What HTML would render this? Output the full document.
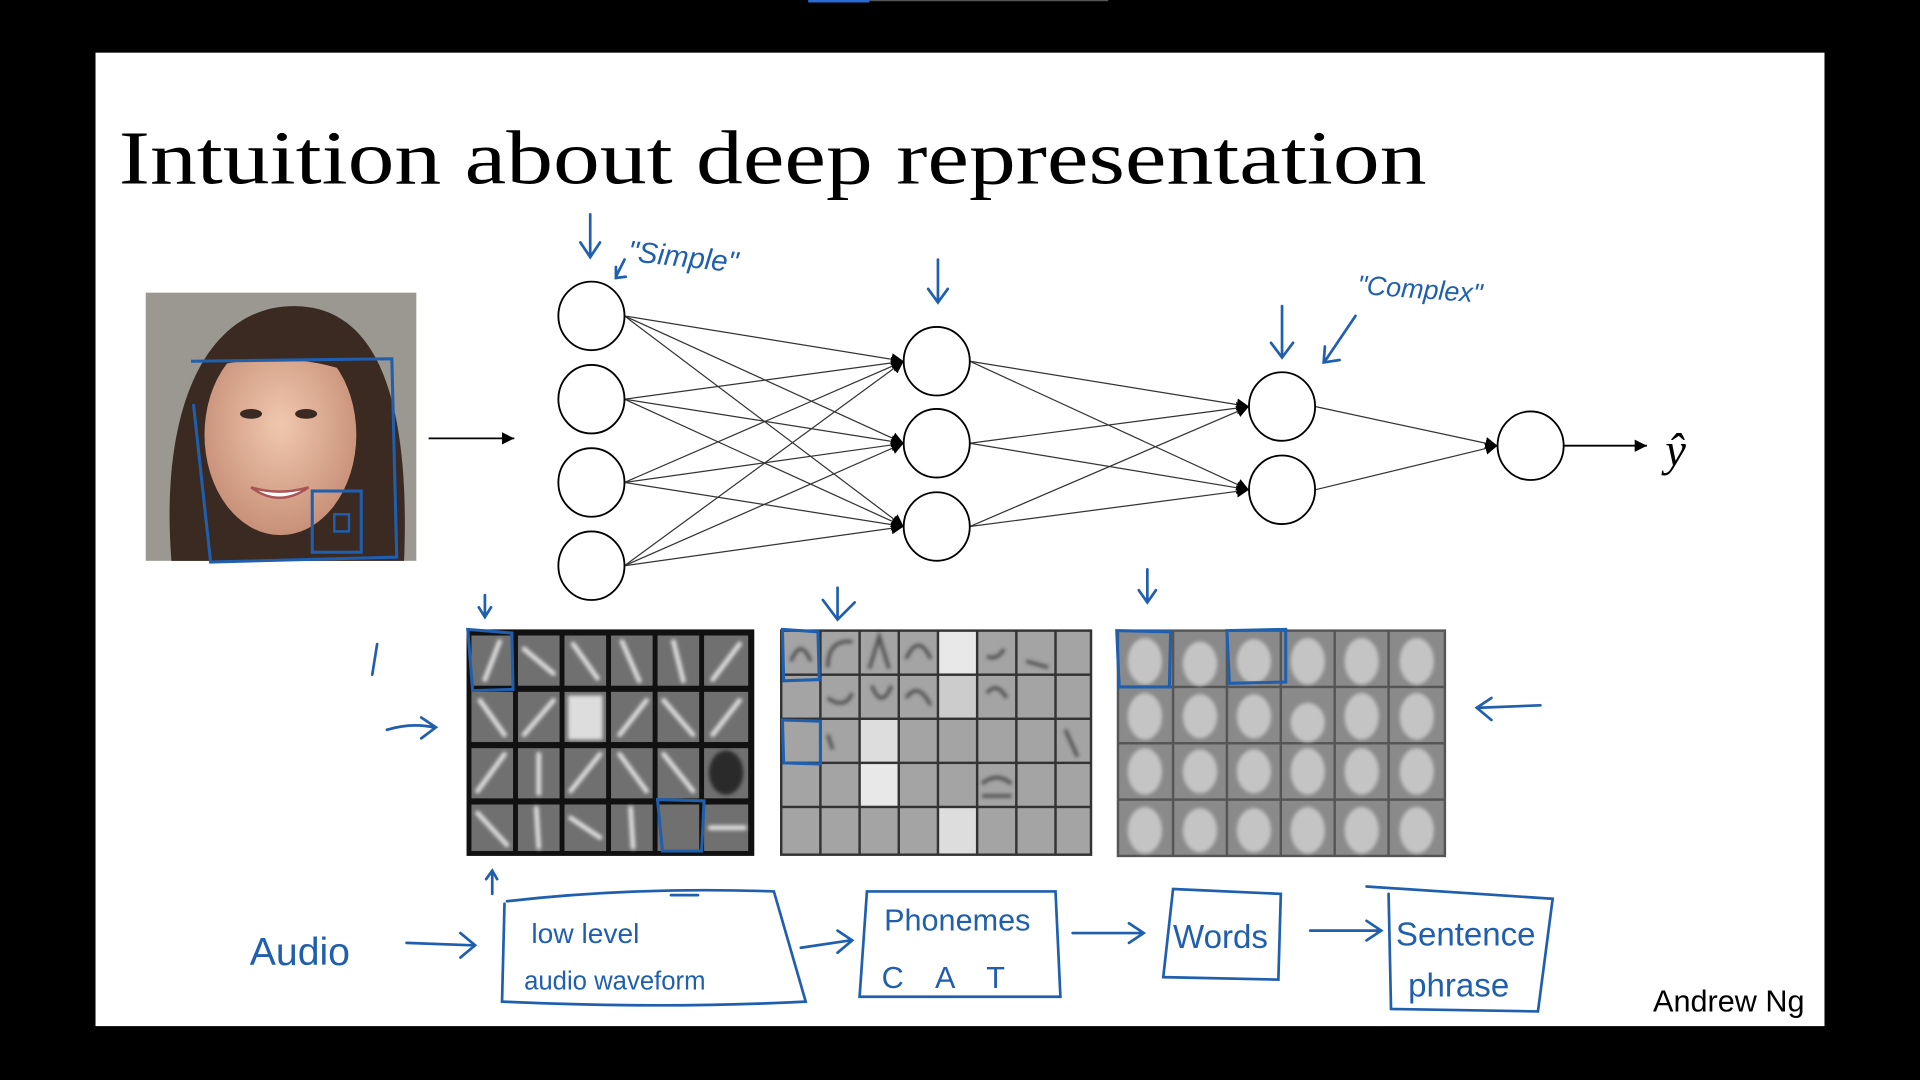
<!DOCTYPE html>
<html><head><meta charset="utf-8"><style>
html,body{margin:0;padding:0;background:#000;width:1920px;height:1080px;overflow:hidden}
svg{display:block}
.hw{font-family:"Liberation Sans",sans-serif;fill:#1f5fae}
</style></head><body>
<svg width="1920" height="1080" viewBox="0 0 1568 882" preserveAspectRatio="none" xmlns="http://www.w3.org/2000/svg">
<defs>
<marker id="ah" viewBox="0 0 10 10" refX="10" refY="5" markerWidth="10" markerHeight="10" markerUnits="userSpaceOnUse" orient="auto"><path d="M0,0L10,5L0,10z" fill="#000"/></marker>
<radialGradient id="skin" cx="50%" cy="45%" r="55%"><stop offset="0" stop-color="#f0c8ae"/><stop offset="1" stop-color="#c89078"/></radialGradient>
<filter id="bl"><feGaussianBlur stdDeviation="1.6"/></filter>
</defs>
<rect width="1568" height="882" fill="#000"/>
<rect x="660" y="0" width="50" height="2" fill="#2a6bd6"/>
<rect x="710" y="0" width="195" height="1" fill="#555"/>
<rect x="78" y="43" width="1412" height="795" fill="#fff"/>
<text x="97" y="150" font-family="'Liberation Serif',serif" font-size="62" textLength="1068" lengthAdjust="spacingAndGlyphs">Intuition about deep representation</text>

<!-- face photo -->
<rect x="119" y="239" width="221" height="219" fill="#9a9890"/>
<path d="M140,458 C130,330 170,250 240,250 C310,250 335,330 330,458z" fill="#3a2a22"/>
<ellipse cx="229" cy="355" rx="62" ry="82" fill="url(#skin)"/>
<path d="M170,300 C190,260 280,255 300,310 C260,290 210,290 170,300z" fill="#3a2a22"/>
<ellipse cx="205" cy="338" rx="9" ry="4" fill="#3a2a22"/><ellipse cx="250" cy="338" rx="9" ry="4" fill="#3a2a22"/>
<path d="M205,398 Q228,415 252,398 Q228,405 205,398z" fill="#fff" stroke="#a55" stroke-width="2"/>
<path d="M156,295 L320,293 L324,455 L172,459 L158,330" fill="none" stroke="#1f5fae" stroke-width="2.5"/>
<rect x="255" y="401" width="40" height="50" fill="none" stroke="#1f5fae" stroke-width="2.5"/>
<rect x="273" y="420" width="12" height="14" fill="none" stroke="#1f5fae" stroke-width="2"/>

<!-- network -->
<line x1="350" y1="358" x2="420" y2="358" stroke="#000" stroke-width="1.5" marker-end="url(#ah)"/>
<g stroke="#333" stroke-width="1" marker-end="url(#ah)">
<line x1="510" y1="258" x2="738" y2="295"/><line x1="510" y1="258" x2="738" y2="362"/><line x1="510" y1="258" x2="738" y2="430"/>
<line x1="510" y1="326" x2="738" y2="295"/><line x1="510" y1="326" x2="738" y2="362"/><line x1="510" y1="326" x2="738" y2="430"/>
<line x1="510" y1="394" x2="738" y2="295"/><line x1="510" y1="394" x2="738" y2="362"/><line x1="510" y1="394" x2="738" y2="430"/>
<line x1="510" y1="462" x2="738" y2="295"/><line x1="510" y1="462" x2="738" y2="362"/><line x1="510" y1="462" x2="738" y2="430"/>
<line x1="792" y1="295" x2="1020" y2="332"/><line x1="792" y1="295" x2="1020" y2="400"/>
<line x1="792" y1="362" x2="1020" y2="332"/><line x1="792" y1="362" x2="1020" y2="400"/>
<line x1="792" y1="430" x2="1020" y2="332"/><line x1="792" y1="430" x2="1020" y2="400"/>
<line x1="1074" y1="332" x2="1223" y2="364"/><line x1="1074" y1="400" x2="1223" y2="364"/>
</g>
<g fill="#fff" stroke="#000" stroke-width="1.5">
<ellipse cx="483" cy="258" rx="27" ry="28"/><ellipse cx="483" cy="326" rx="27" ry="28"/><ellipse cx="483" cy="394" rx="27" ry="28"/><ellipse cx="483" cy="462" rx="27" ry="28"/>
<ellipse cx="765" cy="295" rx="27" ry="28"/><ellipse cx="765" cy="362" rx="27" ry="28"/><ellipse cx="765" cy="430" rx="27" ry="28"/>
<ellipse cx="1047" cy="332" rx="27" ry="28"/><ellipse cx="1047" cy="400" rx="27" ry="28"/>
<ellipse cx="1250" cy="364" rx="27" ry="28"/>
</g>
<line x1="1277" y1="364" x2="1345" y2="364" stroke="#000" stroke-width="1.5" marker-end="url(#ah)"/>
<text x="1360" y="380" font-family="'Liberation Serif','DejaVu Serif',serif" font-style="italic" font-size="38">ŷ</text>

<!-- grid1 -->
<rect x="381" y="514" width="235" height="185" fill="#111"/>
<g fill="#707070">
<rect x="385" y="519" width="34" height="41"/><rect x="423" y="519" width="34" height="41"/><rect x="461" y="519" width="34" height="41"/><rect x="499" y="519" width="34" height="41"/><rect x="537" y="519" width="34" height="41"/><rect x="575" y="519" width="36" height="41"/>
<rect x="385" y="565" width="34" height="41"/><rect x="423" y="565" width="34" height="41"/><rect x="461" y="565" width="34" height="41"/><rect x="499" y="565" width="34" height="41"/><rect x="537" y="565" width="34" height="41"/><rect x="575" y="565" width="36" height="41"/>
<rect x="385" y="611" width="34" height="41"/><rect x="423" y="611" width="34" height="41"/><rect x="461" y="611" width="34" height="41"/><rect x="499" y="611" width="34" height="41"/><rect x="537" y="611" width="34" height="41"/><rect x="575" y="611" width="36" height="41"/>
<rect x="385" y="657" width="34" height="38"/><rect x="423" y="657" width="34" height="38"/><rect x="461" y="657" width="34" height="38"/><rect x="499" y="657" width="34" height="38"/><rect x="537" y="657" width="34" height="38"/><rect x="575" y="657" width="36" height="38"/>
</g>
<g stroke="#eee" stroke-width="4" stroke-linecap="round" opacity="0.85" filter="url(#bl)">
<line x1="396" y1="555" x2="408" y2="524"/><line x1="428" y1="530" x2="452" y2="550"/><line x1="468" y1="526" x2="488" y2="554"/><line x1="508" y1="524" x2="522" y2="556"/><line x1="550" y1="524" x2="558" y2="556"/><line x1="582" y1="555" x2="604" y2="526"/>
<line x1="392" y1="572" x2="412" y2="600"/><line x1="428" y1="600" x2="452" y2="572"/><line x1="506" y1="600" x2="528" y2="572"/><line x1="542" y1="572" x2="566" y2="600"/><line x1="582" y1="600" x2="604" y2="572"/>
<line x1="390" y1="646" x2="412" y2="616"/><line x1="440" y1="616" x2="440" y2="648"/><line x1="466" y1="646" x2="490" y2="616"/><line x1="506" y1="616" x2="528" y2="646"/><line x1="542" y1="616" x2="566" y2="646"/>
<line x1="390" y1="664" x2="414" y2="690"/><line x1="438" y1="660" x2="440" y2="692"/><line x1="466" y1="668" x2="490" y2="684"/><line x1="515" y1="660" x2="517" y2="692"/><line x1="580" y1="676" x2="608" y2="676"/>
</g>
<rect x="464" y="568" width="28" height="36" fill="#ddd" filter="url(#bl)"/>
<ellipse cx="593" cy="631" rx="14" ry="18" fill="#2a2a2a" filter="url(#bl)"/>
<path d="M382,514 L418,517 L419,563 L386,564z" fill="none" stroke="#1f5fae" stroke-width="2.5"/>
<path d="M537,653 L575,654 L573,695 L541,695z" fill="none" stroke="#1f5fae" stroke-width="2.5"/>

<!-- grid2 -->
<rect x="637" y="514" width="255" height="185" fill="#333"/>
<g fill="#a4a4a4">
<rect x="639" y="516" width="30" height="34"/><rect x="671" y="516" width="30" height="34"/><rect x="703" y="516" width="30" height="34"/><rect x="735" y="516" width="30" height="34"/><rect x="767" y="516" width="30" height="34" fill="#e8e8e8"/><rect x="799" y="516" width="30" height="34"/><rect x="831" y="516" width="30" height="34"/><rect x="863" y="516" width="27" height="34"/>
<rect x="639" y="552" width="30" height="34"/><rect x="671" y="552" width="30" height="34"/><rect x="703" y="552" width="30" height="34"/><rect x="735" y="552" width="30" height="34"/><rect x="767" y="552" width="30" height="34" fill="#ccc"/><rect x="799" y="552" width="30" height="34"/><rect x="831" y="552" width="30" height="34"/><rect x="863" y="552" width="27" height="34"/>
<rect x="639" y="588" width="30" height="34"/><rect x="671" y="588" width="30" height="34"/><rect x="703" y="588" width="30" height="34" fill="#ddd"/><rect x="735" y="588" width="30" height="34"/><rect x="767" y="588" width="30" height="34"/><rect x="799" y="588" width="30" height="34"/><rect x="831" y="588" width="30" height="34"/><rect x="863" y="588" width="27" height="34"/>
<rect x="639" y="624" width="30" height="34"/><rect x="671" y="624" width="30" height="34"/><rect x="703" y="624" width="30" height="34" fill="#e8e8e8"/><rect x="735" y="624" width="30" height="34"/><rect x="767" y="624" width="30" height="34"/><rect x="799" y="624" width="30" height="34"/><rect x="831" y="624" width="30" height="34"/><rect x="863" y="624" width="27" height="34"/>
<rect x="639" y="660" width="30" height="37"/><rect x="671" y="660" width="30" height="37"/><rect x="703" y="660" width="30" height="37"/><rect x="735" y="660" width="30" height="37"/><rect x="767" y="660" width="30" height="37" fill="#ddd"/><rect x="799" y="660" width="30" height="37"/><rect x="831" y="660" width="30" height="37"/><rect x="863" y="660" width="27" height="37"/>
</g>
<g fill="none" stroke="#333" stroke-width="3" opacity="0.7" filter="url(#bl)">
<path d="M646,540 Q654,520 662,540"/><path d="M676,545 Q676,522 696,524"/><path d="M710,546 L718,520 L726,546"/><path d="M740,538 Q750,516 760,538"/><path d="M806,536 Q814,540 820,530"/><path d="M838,540 L856,545"/>
<path d="M676,570 Q690,580 696,566"/><path d="M712,560 Q720,580 728,560"/><path d="M740,570 Q750,556 760,576"/><path d="M806,566 Q814,556 822,570"/>
<path d="M802,640 Q814,630 826,640"/><path d="M802,650 L826,650"/><path d="M676,600 L680,612"/><path d="M870,596 L880,618"/>
</g>
<path d="M639,514 L668,516 L669,555 L640,556z" fill="none" stroke="#1f5fae" stroke-width="2.5"/>
<path d="M639,588 L670,589 L670,624 L640,623z" fill="none" stroke="#1f5fae" stroke-width="2.5"/>

<!-- grid3 -->
<rect x="912" y="514" width="269" height="186" fill="#555"/>
<g fill="#8a8a8a">
<rect x="914" y="516" width="43" height="44"/><rect x="959" y="516" width="42" height="44"/><rect x="1003" y="516" width="42" height="44"/><rect x="1047" y="516" width="42" height="44"/><rect x="1091" y="516" width="42" height="44"/><rect x="1135" y="516" width="44" height="44"/>
<rect x="914" y="562" width="43" height="44"/><rect x="959" y="562" width="42" height="44"/><rect x="1003" y="562" width="42" height="44"/><rect x="1047" y="562" width="42" height="44"/><rect x="1091" y="562" width="42" height="44"/><rect x="1135" y="562" width="44" height="44"/>
<rect x="914" y="608" width="43" height="44"/><rect x="959" y="608" width="42" height="44"/><rect x="1003" y="608" width="42" height="44"/><rect x="1047" y="608" width="42" height="44"/><rect x="1091" y="608" width="42" height="44"/><rect x="1135" y="608" width="44" height="44"/>
<rect x="914" y="654" width="43" height="44"/><rect x="959" y="654" width="42" height="44"/><rect x="1003" y="654" width="42" height="44"/><rect x="1047" y="654" width="42" height="44"/><rect x="1091" y="654" width="42" height="44"/><rect x="1135" y="654" width="44" height="44"/>
</g>
<g fill="#c4c4c4" filter="url(#bl)">
<ellipse cx="935" cy="540" rx="14" ry="19"/><ellipse cx="980" cy="542" rx="14" ry="18"/><ellipse cx="1024" cy="540" rx="14" ry="18"/><ellipse cx="1068" cy="540" rx="14" ry="19"/><ellipse cx="1112" cy="540" rx="14" ry="19"/><ellipse cx="1157" cy="540" rx="14" ry="19"/>
<ellipse cx="935" cy="585" rx="14" ry="19"/><ellipse cx="980" cy="585" rx="14" ry="18"/><ellipse cx="1024" cy="585" rx="14" ry="18"/><ellipse cx="1068" cy="590" rx="14" ry="16"/><ellipse cx="1112" cy="585" rx="14" ry="19"/><ellipse cx="1157" cy="585" rx="14" ry="19"/>
<ellipse cx="935" cy="630" rx="14" ry="19"/><ellipse cx="980" cy="630" rx="14" ry="18"/><ellipse cx="1024" cy="630" rx="14" ry="18"/><ellipse cx="1068" cy="630" rx="14" ry="19"/><ellipse cx="1112" cy="630" rx="14" ry="19"/><ellipse cx="1157" cy="630" rx="14" ry="19"/>
<ellipse cx="935" cy="678" rx="14" ry="19"/><ellipse cx="980" cy="678" rx="14" ry="18"/><ellipse cx="1024" cy="678" rx="14" ry="18"/><ellipse cx="1068" cy="678" rx="14" ry="19"/><ellipse cx="1112" cy="678" rx="14" ry="19"/><ellipse cx="1157" cy="678" rx="14" ry="19"/>
</g>
<path d="M912,515 L956,516 L955,561 L914,561z" fill="none" stroke="#1f5fae" stroke-width="2.5"/>
<path d="M1002,515 L1050,514 L1050,557 L1004,558z" fill="none" stroke="#1f5fae" stroke-width="2.5"/>

<!-- handwritten annotations -->
<g fill="none" stroke="#1f5fae" stroke-width="2.2" stroke-linecap="round">
<path d="M482,175 L482,208 M474,198 L482,210 L490,198"/><path d="M510,212 L503,226 M503,218 L503,227 L511,226"/>
<path d="M766,212 L766,245 M758,236 L766,247 L774,236"/>
<path d="M1047,250 L1047,290 M1038,280 L1047,292 L1056,280"/><path d="M1107,258 L1082,295 M1082,283 L1081,296 L1094,294"/>
<path d="M396,486 L396,503 M391,496 L396,504 L401,496"/>
<path d="M684,480 L684,505 M672,490 L684,506 L698,492"/>
<path d="M937,465 L937,490 M930,482 L937,492 L944,482"/>
<path d="M308,526 L304,551"/>
<path d="M316,596 Q336,590 354,594 M344,586 L356,594 L344,603"/>
<path d="M1258,576 L1208,578 M1218,570 L1206,578 L1218,588"/>
<path d="M402,730 L402,712 M397,718 L402,711 L406,718"/>
<path d="M332,770 L386,772 M376,762 L388,772 L376,782"/>
<path d="M654,774 L694,768 M684,760 L696,768 L684,778"/>
<path d="M876,762 L932,762 M922,754 L934,762 L922,770"/>
<path d="M1070,760 L1126,760 M1116,752 L1128,760 L1116,768"/>
<path d="M414,736 Q520,724 632,728 L658,818 Q540,824 410,818 L412,738"/>
<path d="M548,731 L570,731"/>
<path d="M708,728 L862,728 L866,814 L702,814z"/>
<path d="M958,726 L1046,730 L1044,800 L950,798z"/>
<path d="M1116,724 L1268,734 L1256,826 L1136,824 L1134,730"/>
</g>
<text class="hw" x="512" y="213" font-size="24" font-style="italic" transform="rotate(6 512 213)">"Simple"</text>
<text class="hw" x="1108" y="240" font-size="22" font-style="italic" transform="rotate(4 1108 240)">"Complex"</text>
<text class="hw" x="204" y="788" font-size="32">Audio</text>
<text class="hw" x="434" y="770" font-size="23">low level</text>
<text class="hw" x="428" y="808" font-size="21">audio waveform</text>
<text class="hw" x="722" y="760" font-size="25">Phonemes</text>
<text class="hw" x="720" y="807" font-size="25" letter-spacing="10">C A T</text>
<text class="hw" x="958" y="774" font-size="27">Words</text>
<text class="hw" x="1140" y="772" font-size="27">Sentence</text>
<text class="hw" x="1150" y="814" font-size="27">phrase</text>
<text x="1350" y="826" font-family="'Liberation Sans',sans-serif" font-size="25" fill="#000">Andrew Ng</text>
</svg>
</body></html>
